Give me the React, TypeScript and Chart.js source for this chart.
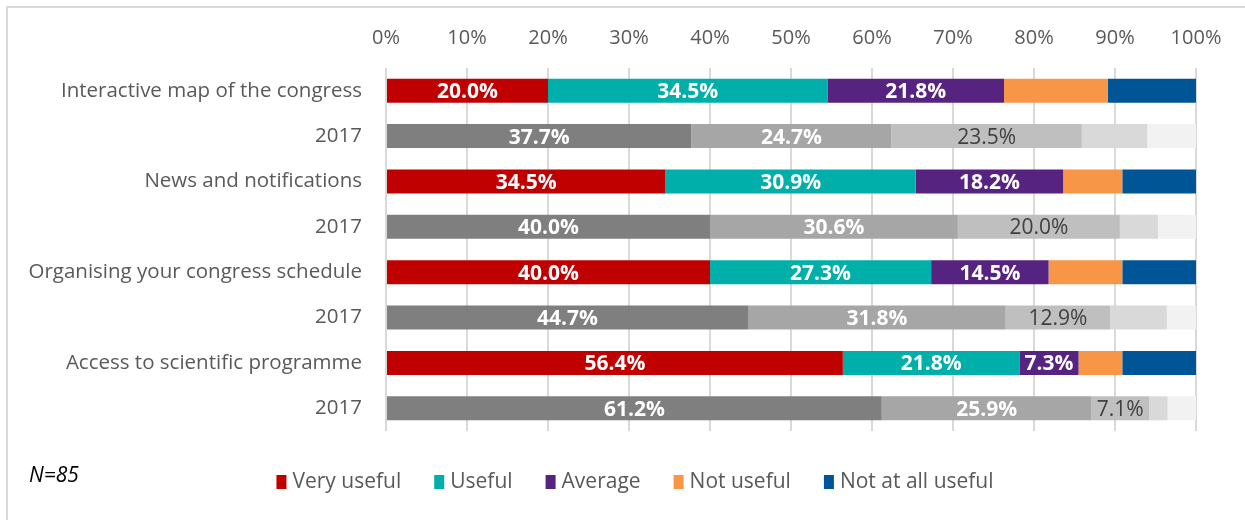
import React, { useEffect, useRef } from "react";
import { Chart, registerables } from "chart.js";

Chart.register(...registerables);

const categories = [
  "Interactive map of the congress",
  "2017",
  "News and notifications",
  "2017",
  "Organising your congress schedule",
  "2017",
  "Access to scientific programme",
  "2017",
];
const seriesNames = ["Very useful", "Useful", "Average", "Not useful", "Not at all useful"];
const veryUseful = [20.0, 37.7, 34.5, 40.0, 40.0, 44.7, 56.4, 61.2];
const useful = [34.5, 24.7, 30.9, 30.6, 27.3, 31.8, 21.8, 25.9];
const average = [21.8, 23.5, 18.2, 20.0, 14.5, 12.9, 7.3, 7.1];
const notUseful = [12.8, 8.1, 7.3, 4.7, 9.1, 7.0, 5.4, 2.3];
const notAtAllUseful = [10.9, 6.0, 9.1, 4.7, 9.1, 3.6, 9.1, 3.5];
const tickValues = [0, 10, 20, 30, 40, 50, 60, 70, 80, 90, 100];
const footnote = "N=85";

const colorsNow = ["#c00000", "#00aeaa", "#572381", "#f79646", "#005596"];
const colorsPrev = ["#7f7f7f", "#a6a6a6", "#bfbfbf", "#d9d9d9", "#f2f2f2"];
const FONT = "'Open Sans', sans-serif";

export default function App() {
  const ref = useRef<HTMLCanvasElement | null>(null);
  useEffect(() => {
    if (!ref.current) return;
    const values = [veryUseful, useful, average, notUseful, notAtAllUseful];
    const datasets = values.map((arr, di) => ({
      label: seriesNames[di],
      data: arr,
      backgroundColor: categories.map((c, i) => (i % 2 === 1 ? colorsPrev[di] : colorsNow[di])),
      borderWidth: 0,
      categoryPercentage: 0.53,
      barPercentage: 1.0,
    }));

    const labelPlugin = {
      id: "segLabels",
      afterDatasetsDraw(chart: any) {
        const ctx = chart.ctx;
        ctx.save();
        ctx.textAlign = "center";
        ctx.textBaseline = "middle";
        for (let di = 0; di < 3; di++) {
          const meta = chart.getDatasetMeta(di);
          meta.data.forEach((el: any, i: number) => {
            const v = values[di][i];
            const prev = i % 2 === 1;
            const dark = prev && di === 2;
            ctx.fillStyle = dark ? "#404040" : "#ffffff";
            ctx.font = (dark ? "" : "bold ") + "21px " + FONT;
            ctx.fillText(v.toFixed(1) + "%", (el.x + el.base) / 2, el.y + 1.5);
          });
        }
        ctx.restore();
      },
    };

    const decoPlugin = {
      id: "deco",
      afterDraw(chart: any) {
        const ctx = chart.ctx;
        ctx.save();
        ctx.strokeStyle = "#d9d9d9";
        ctx.lineWidth = 2;
        ctx.beginPath();
        ctx.moveTo(7, 520);
        ctx.lineTo(7, 7);
        ctx.lineTo(1245, 7);
        ctx.stroke();
        ctx.fillStyle = "#000000";
        ctx.font = "italic 21px " + FONT;
        ctx.textAlign = "left";
        ctx.textBaseline = "middle";
        ctx.fillText(footnote, 29, 476);

        // legend
        ctx.font = "21px " + FONT;
        const boxW = 10, boxH = 14, gapBT = 6, gapItems = 33;
        const widths = seriesNames.map((n) => ctx.measureText(n).width);
        const total = widths.reduce((a, b) => a + b, 0) + seriesNames.length * (boxW + gapBT) + (seriesNames.length - 1) * gapItems;
        let x = 635 - total / 2;
        const cy = 482;
        seriesNames.forEach((n, i) => {
          ctx.fillStyle = colorsNow[i];
          ctx.fillRect(x, cy - boxH / 2, boxW, boxH);
          x += boxW + gapBT;
          ctx.fillStyle = "#595959";
          ctx.fillText(n, x, cy);
          x += widths[i] + gapItems;
        });
        ctx.restore();
      },
    };

    const chart = new Chart(ref.current, {
      type: "bar",
      data: { labels: categories, datasets },
      plugins: [labelPlugin, decoPlugin],
      options: {
        indexAxis: "y",
        animation: false,
        responsive: false,
        maintainAspectRatio: false,
        layout: { padding: { left: 0, right: 49, top: 0, bottom: 89 } },
        scales: {
          x: {
            position: "top",
            stacked: true,
            min: 0,
            max: 100,
            afterBuildTicks: (scale: any) => {
              scale.ticks = tickValues.map((v) => ({ value: v }));
            },
            afterFit: (scale: any) => {
              scale.height = 68;
            },
            ticks: {
              callback: (v: any) => v + "%",
              color: "#595959",
              font: { family: FONT, size: 20 },
              padding: 18,
              maxRotation: 0,
            },
            grid: { color: "#d9d9d9", lineWidth: 2, drawTicks: false },
            border: { display: false },
          },
          y: {
            stacked: true,
            afterFit: (scale: any) => {
              scale.width = 386;
            },
            ticks: {
              color: "#595959",
              font: { family: FONT, size: 20.5 },
              padding: 24,
            },
            grid: { display: false, drawTicks: false },
            border: { display: false },
          },
        },
        plugins: {
          tooltip: { enabled: false },
          legend: { display: false },
        },
      },
    });
    return () => chart.destroy();
  }, []);

  return (
    <div style={{ position: "fixed", left: 0, top: 0, width: 1245, height: 520, background: "#fff" }}>
      <canvas ref={ref} width={1245} height={520} style={{ width: 1245, height: 520 }} />
    </div>
  );
}
